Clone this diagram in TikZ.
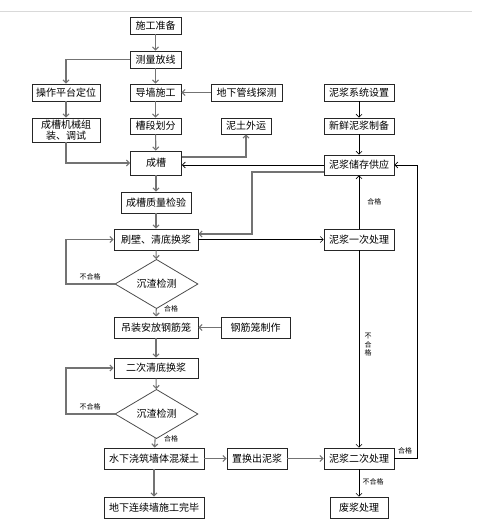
\documentclass[tikz,border=0pt]{standalone}
\usepackage{fontspec}
\newfontfamily\cjk{Noto Sans CJK SC}
\usetikzlibrary{arrows.meta,shapes.geometric,calc}
\tikzset{
  box/.style={draw=black!85, line width=0.8pt, inner sep=0pt, align=center,
    font=\cjk\fontsize{10}{12}\selectfont},
  dia/.style={draw=black!70, line width=0.8pt, shape=diamond, inner sep=0pt,
    minimum width=83pt, minimum height=36pt, font=\cjk\fontsize{10}{12}\selectfont},
  tip/.style={-{Straight Barb[length=3pt,width=6pt]}},
  gline/.style={tip, draw=black!55, line width=1.1pt},
  bline/.style={tip, draw=black, line width=0.6pt},
  lab/.style={font=\cjk\fontsize{7}{8}\selectfont, inner sep=0pt}
}
\begin{document}
\begin{tikzpicture}[x=1pt,y=-1pt]
\useasboundingbox (0,0) rectangle (479,524);
\draw[black!15, line width=0.8pt] (0,11) -- (472,11);
% nodes
\node[box, minimum width=51pt, minimum height=17pt] (n1) at (155.5,25.5) {施工准备};
\node[box, minimum width=51pt, minimum height=17pt] (n2) at (155.5,59.5) {测量放线};
\node[box, minimum width=68pt, minimum height=17pt] (n3) at (66,92.5) {操作平台定位};
\node[box, minimum width=51pt, minimum height=17pt] (n4) at (155.5,92.5) {导墙施工};
\node[box, minimum width=71pt, minimum height=17pt] (n5) at (246.5,92.5) {地下管线探测};
\node[box, minimum width=70pt, minimum height=17pt] (n6) at (359,92.5) {泥浆系统设置};
\node[box, minimum width=68pt, minimum height=24pt, font=\cjk\fontsize{10}{10.5}\selectfont] (n7) at (66,130) {成槽机械组\\装、调试};
\node[box, minimum width=51pt, minimum height=16pt] (n8) at (155.5,126) {槽段划分};
\node[box, minimum width=50pt, minimum height=16pt] (n9) at (246,126) {泥土外运};
\node[box, minimum width=70pt, minimum height=16pt] (n10) at (359,126) {新鲜泥浆制备};
\node[box, minimum width=51pt, minimum height=24pt] (n11) at (156,163) {成槽};
\node[box, minimum width=70pt, minimum height=20pt] (n12) at (359,165) {泥浆储存供应};
\node[box, minimum width=70pt, minimum height=21pt] (n13) at (156,202.5) {成槽质量检验};
\node[box, minimum width=84pt, minimum height=21pt] (n14) at (156,239.5) {刷壁、清底换浆};
\node[box, minimum width=70pt, minimum height=21pt] (n15) at (359,239.5) {泥浆一次处理};
\node[dia] (d1) at (156.5,284) {沉渣检测};
\node[box, minimum width=84pt, minimum height=21pt] (n16) at (156,327.5) {吊装安放钢筋笼};
\node[box, minimum width=69pt, minimum height=21pt] (n17) at (255.5,327.5) {钢筋笼制作};
\node[box, minimum width=84pt, minimum height=20pt] (n18) at (156,368) {二次清底换浆};
\node[dia] (d2) at (156.5,414) {沉渣检测};
\node[box, minimum width=100pt, minimum height=21pt] (n19) at (154,458.5) {水下浇筑墙体混凝土};
\node[box, minimum width=100pt, minimum height=21pt] (n20) at (154,507.5) {地下连续墙施工完毕};
\node[box, minimum width=60pt, minimum height=21pt] (n21) at (257,458.5) {置换出泥浆};
\node[box, minimum width=70pt, minimum height=21pt] (n22) at (359,458.5) {泥浆二次处理};
\node[box, minimum width=58pt, minimum height=21pt] (n23) at (359,507.5) {废浆处理};
% helper coordinates
\coordinate (c1) at (252,234);
\coordinate (L1) at (66,239.5);
\coordinate (L2) at (66,368);
% connectors
\draw[gline] (n1) -- (n2);
\draw[gline] (n2.west) -| (n3.north);
\draw[gline] (n2) -- (n4);
\draw[gline] (n5) -- (n4);
\draw[gline] (n3) -- (n7);
\draw[gline] (n4) -- (n8);
\draw[gline] (n8) -- (n11);
\draw[gline] (n7.south) |- (n11.west);
\draw[gline] ([yshift=6pt]n11.east) -| (n9.south);
\draw[bline] (n12.west) -- (n12.west -| n11.east);
\draw[bline] (n6) -- (n10);
\draw[bline] (n10) -- (n12);
\draw[gline] (n11) -- (n13);
\draw[gline] (n13) -- (n14);
\draw[gline] ([yshift=-7pt]n12.west) -| (c1) -- (c1 -| n14.east);
\draw[bline] (n14.east) -- (n15.west);
\draw[bline] (n15) -- node[lab, right=8pt] {合格} (n12);
\draw[gline] (n14) -- (d1);
\draw[gline] (d1.west) -| (L1) -- (n14.west);
\node[lab] (t1) at (90,277) {不合格};
\draw[gline] (d1) -- (n16);
\node[lab] (t2) at (171,309) {合格};
\draw[gline] (n17) -- (n16);
\draw[gline] (n16) -- (n18);
\draw[gline] (n18) -- (d2);
\draw[gline] (d2.west) -| (L2) -- (n18.west);
\node[lab] (t3) at (90,407) {不合格};
\draw[gline] (d2) -- (n19);
\node[lab] (t4) at (171,439) {合格};
\draw[gline] (n19) -- (n20);
\draw[gline] (n19) -- (n21);
\draw[gline] (n21) -- (n22);
\draw[bline] (n15) -- (n22);
\node[lab, align=center, font=\cjk\fontsize{7}{8.5}\selectfont] (t5) at (368,345) {不\\合\\格};
\draw[bline] (n22.east) -| ([xshift=23pt]n12.east) -- (n12.east);
\node[lab] (t6) at (405,451) {合格};
\draw[bline] (n22) -- (n23);
\node[lab] (t7) at (373,482) {不合格};
\end{tikzpicture}
\end{document}
